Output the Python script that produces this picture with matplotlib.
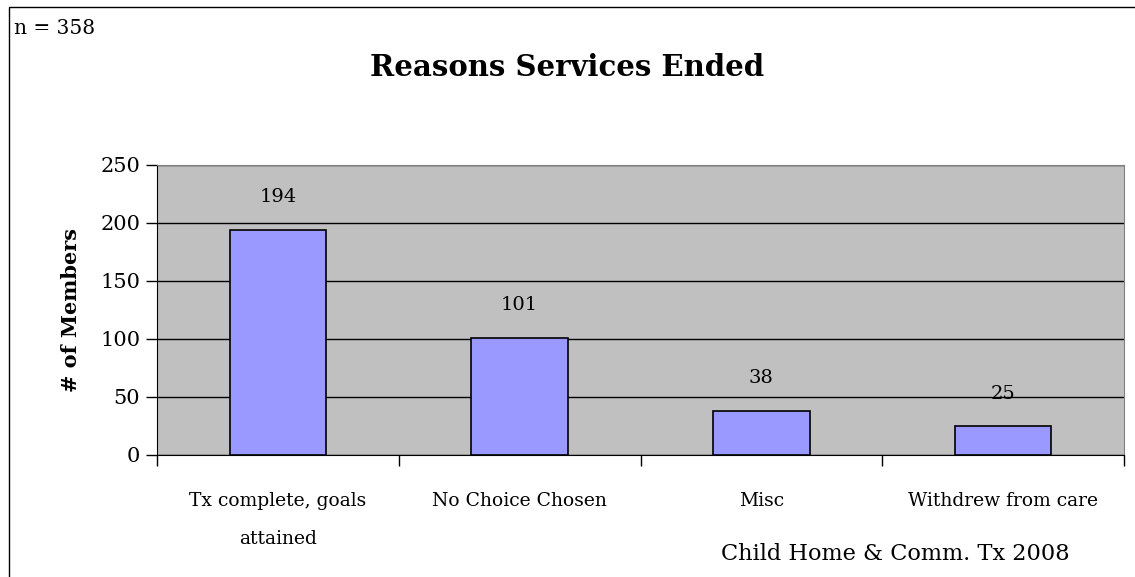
import matplotlib.pyplot as plt
from matplotlib.patches import Rectangle

categories = ["Tx complete, goals\nattained", "No Choice Chosen", "Misc", "Withdrew from care"]
values = [194, 101, 38, 25]
yticks = [0, 50, 100, 150, 200, 250]

plt.rcParams['font.family'] = ['DejaVu Serif']

W, H = 1135, 577
fig = plt.figure(figsize=(W / 100, H / 100), dpi=100)

# outer chart frame (runs off the right and bottom edges)
fig.patches.append(Rectangle((9 / W, -0.1), 1.2, 1 - 7 / H + 0.1, transform=fig.transFigure,
                             fill=False, edgecolor='black', linewidth=1.0))

ax = fig.add_axes([157 / W, 1 - 455 / H, (1124 - 157) / W, (455 - 165) / H])
ax.set_facecolor('#C0C0C0')

x = range(len(categories))
ax.bar(x, values, width=0.4, color='#9999FF', edgecolor='black', linewidth=1.2, zorder=3)
for i, v in enumerate(values):
    ax.text(i, v + 28, str(v), ha='center', va='center', fontsize=14)

ax.set_xlim(-0.5, len(categories) - 0.5)
ax.set_ylim(0, 250)
ax.set_yticks(yticks)
ax.yaxis.grid(True, color='black', linewidth=1.0, zorder=0)
ax.set_axisbelow(True)
ax.tick_params(axis='y', labelsize=15, length=8, width=1, pad=4)

ax.set_xticks([i - 0.5 for i in range(len(categories) + 1)])
ax.set_xticklabels([])
ax.set_xticks(list(x), minor=True)
ax.set_xticklabels(categories, minor=True, fontsize=13.5, linespacing=2.4, va='top')
ax.tick_params(axis='x', which='major', length=8, width=1, direction='out')
ax.tick_params(axis='x', which='minor', length=0, pad=27)

for side in ['top', 'right']:
    ax.spines[side].set_color('#808080')
ax.spines['left'].set_color('black')
ax.spines['bottom'].set_color('black')

ax.set_ylabel('# of Members', fontsize=15, fontweight='bold', labelpad=14)

fig.text(567 / W, 1 - 67 / H, 'Reasons Services Ended', ha='center', va='center',
         fontsize=21, fontweight='bold')
fig.text(14 / W, 1 - 29 / H, 'n = 358', ha='left', va='center', fontsize=14.5)
fig.text(895 / W, 1 - 554 / H, 'Child Home & Comm. Tx 2008', ha='center', va='center', fontsize=16.2)

fig.savefig('out.png', dpi=100)
